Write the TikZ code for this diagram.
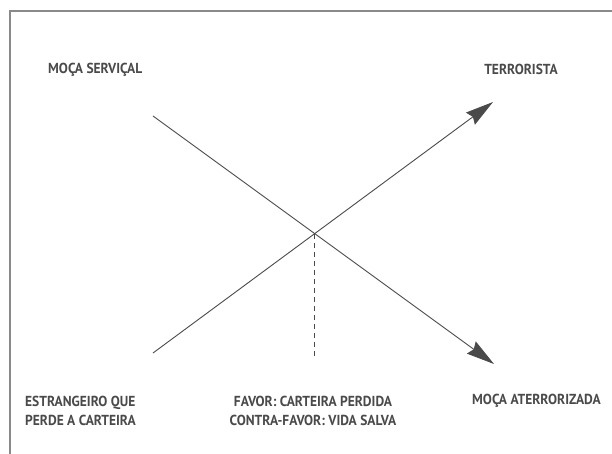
\documentclass[tikz,border=0pt]{standalone}
\usepackage{fontspec}
\setmainfont{PT Sans}[FakeStretch=0.93]
\usetikzlibrary{arrows.meta}
\definecolor{ink}{HTML}{4A4A4A}
\definecolor{framec}{HTML}{8A8A8A}
\tikzset{
  lbl/.style={text=ink, font=\fontsize{14.5}{19}\selectfont\bfseries, inner sep=0pt},
  axis/.style={draw=ink, line width=0.9pt},
  arr/.style={axis, -{Stealth[length=28pt,width=15pt,inset=3pt]}},
  guide/.style={draw=ink, line width=0.9pt, dash pattern=on 5pt off 4pt},
}
\begin{document}
\begin{tikzpicture}[x=1pt,y=-1pt]
\useasboundingbox (0,0) rectangle (612,454);
\draw[framec, line width=1.5pt] (10,454) -- (10,11) -- (612,11);
\coordinate (a1) at (153,353);
\coordinate (t1) at (493,102);
\coordinate (a2) at (153,116);
\coordinate (t2) at (494,364);
\coordinate (x) at (314,234);
\coordinate (d) at (314,357);
\draw[arr] (a1) -- (t1);
\draw[arr] (a2) -- (t2);
\draw[guide] (x) -- (d);
\node[lbl, anchor=west] (ms) at (48,70) {MOÇA SERVIÇAL};
\node[lbl] (te) at (521,69) {TERRORISTA};
\node[lbl, anchor=west, align=left] (es) at (25,411) {ESTRANGEIRO QUE\\PERDE A CARTEIRA};
\node[lbl, align=center] (fv) at (313,411) {FAVOR: CARTEIRA PERDIDA\\CONTRA-FAVOR: VIDA SALVA};
\node[lbl, anchor=west] (ma) at (472,401) {MOÇA ATERRORIZADA};
\end{tikzpicture}
\end{document}
